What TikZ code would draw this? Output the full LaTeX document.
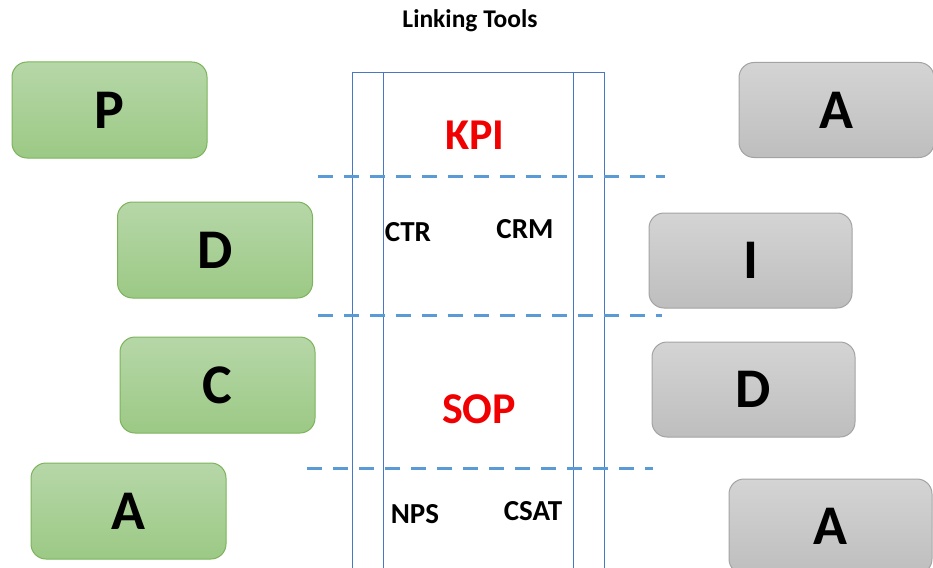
\documentclass[tikz,border=0pt]{standalone}
\usepackage{fontspec}
\setmainfont{Carlito}
\usetikzlibrary{positioning}
\definecolor{grtop}{HTML}{B6D7A8}
\definecolor{grbot}{HTML}{9CC985}
\definecolor{grline}{HTML}{7CB35B}
\definecolor{gytop}{HTML}{D4D4D4}
\definecolor{gybot}{HTML}{BEBEBE}
\definecolor{gyline}{HTML}{A3A3A3}
\definecolor{frame}{HTML}{4A76C6}
\definecolor{dashblue}{HTML}{5B9BD5}
\definecolor{kpired}{HTML}{F00000}

\begin{document}
\begin{tikzpicture}[x=1pt, y=-1pt,
  greenbox/.style={draw=grline, line width=1pt, rounded corners=15pt,
    top color=grtop, bottom color=grbot, minimum width=195pt,
    minimum height=96pt, font=\fontsize{56}{56}\selectfont\bfseries},
  graybox/.style={draw=gyline, line width=1pt, rounded corners=15pt,
    top color=gytop, bottom color=gybot, minimum width=203pt,
    minimum height=95pt, font=\fontsize{56}{56}\selectfont\bfseries},
  redlabel/.style={text=kpired, font=\fontsize{44}{44}\selectfont\bfseries},
  tool/.style={font=\fontsize{29}{29}\selectfont\bfseries},
  divider/.style={dashblue, line width=3pt, dash pattern=on 15pt off 11pt}]

% Canvas
\useasboundingbox (0,0) rectangle (933,567);
\clip (0,0) rectangle (933,567);

% Title
\node[font=\fontsize{25.5}{25.5}\selectfont\bfseries] (title) at (470,21) {Linking Tools};

% --- Left column (green) ---
\node[greenbox] (p) at (109.5,110) {P};
\node[greenbox] (d) at (215,250) {D};
\node[greenbox] (c) at (217.5,385) {C};
\node[greenbox] (a) at (128.5,511) {A};

% --- Right column (gray) ---
\node[graybox, minimum width=195pt] (ra) at (836.5,110) {A};
\node[graybox] (ri) at (750.5,260.5) {I};
\node[graybox] (rd) at (753.5,389.5) {D};
\node[graybox] (rb) at (830.5,526.5) {A};

% --- Central frame ---
\draw[frame, line width=1pt] (352,580) -- (352,73) -- (604,73) -- (604,580);
\draw[frame, line width=1pt] (383,73) -- (383,580);
\draw[frame, line width=1pt] (573,73) -- (573,580);

% Dashed dividers
\draw[divider] (318,176) -- (665,176);
\draw[divider] (318,315) -- (662,315);
\draw[divider] (307,468) -- (653,468);

% Labels inside the frame
\node[redlabel] (kpi) at (475,135) {KPI};
\node[tool] (ctr) at (408,232) {CTR};
\node[tool] (crm) at (525,229) {CRM};
\node[redlabel] (sop) at (479,409) {SOP};
\node[tool] (nps) at (415,514) {NPS};
\node[tool] (csat) at (533,511) {CSAT};

\end{tikzpicture}
\end{document}
